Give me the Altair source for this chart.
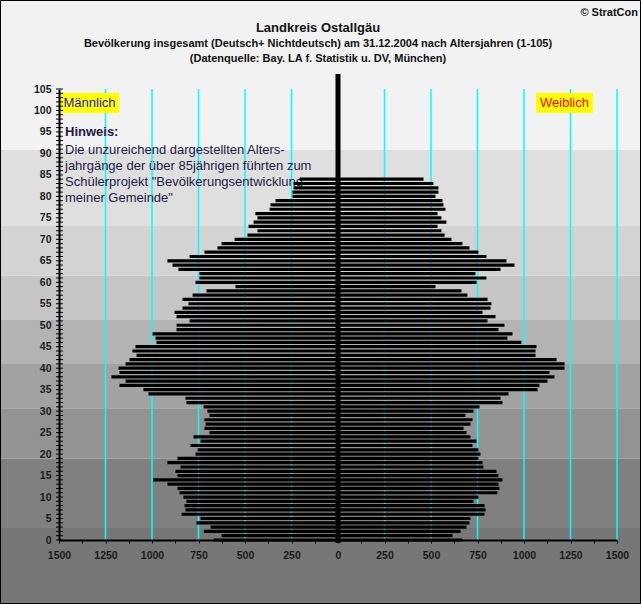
import altair as alt
import pandas as pd

# ---------------- data ----------------
ages = list(range(85))
male = [668, 626, 721, 685, 761, 739, 841, 820, 825, 815,
        831, 852, 863, 917, 994, 863, 874, 847, 917, 863,
        766, 755, 793, 739, 777, 691, 718, 712, 718, 691,
        702, 723, 815, 820, 1019, 1046, 1175, 1142, 1218, 1175,
        1180, 1142, 1121, 1083, 1105, 1089, 976, 981, 997, 868,
        868, 798, 868, 879, 836, 804, 836, 782, 707, 551,
        766, 745, 745, 858, 890, 917, 798, 718, 648, 626,
        556, 487, 433, 481, 454, 433, 444, 368, 363, 336,
        245, 245, 239, 239, 207]
female = [669, 616, 659, 691, 707, 712, 788, 793, 788, 728,
          755, 857, 868, 863, 884, 863, 852, 782, 777, 755,
          766, 755, 723, 745, 712, 691, 675, 712, 723, 685,
          728, 761, 884, 874, 917, 1073, 1083, 1126, 1164, 1137,
          1218, 1218, 1175, 1062, 1062, 1067, 986, 911, 938, 863,
          895, 804, 847, 777, 820, 825, 804, 696, 664, 524,
          745, 798, 739, 874, 949, 906, 798, 755, 707, 669,
          610, 573, 556, 535, 583, 556, 535, 578, 567, 562,
          524, 540, 540, 513, 460]

band_lo = [-40, 2.8, 18.9, 30.7, 41.0, 51.2, 61.5, 73.1, 90.8]
band_hi = [2.8, 18.9, 30.7, 41.0, 51.2, 61.5, 73.1, 90.8, 140]
band_col = ["#777777", "#808080", "#939393", "#a2a2a2", "#b3b3b3",
            "#c6c6c6", "#d3d3d3", "#dfdfdf", "#f2f2f2"]

grid_vals = [-1250, -1000, -750, -500, -250, 250, 500, 750, 1000, 1250, 1500]
x_ticks = list(range(-1500, 1501, 125))
y_labels = list(range(0, 106, 5))
y_ticks = list(range(0, 106))

title = "Landkreis Ostallgäu"
sub1 = "Bevölkerung  insgesamt (Deutsch+ Nichtdeutsch) am 31.12.2004 nach Altersjahren (1-105)"
sub2 = "(Datenquelle: Bay. LA f. Statistik u. DV, München)"
copyright_txt = "© StratCon"
note_head = "Hinweis:"
note_lines = ["Die unzureichend dargestellten Alters-",
              "jahrgänge der über 85jährigen führten zum",
              "Schülerprojekt \"Bevölkerungsentwicklung",
              "meiner Gemeinde\""]

W, H = 558, 451
PL, PT, PR, PB = 59, 89, 24, 64

# ---------------- tables ----------------
bars = pd.DataFrame({
    "age": ages * 2,
    "value": [-v for v in male] + female,
    "sex": ["Männlich"] * len(ages) + ["Weiblich"] * len(ages),
})
bands = pd.DataFrame({"lo": band_lo, "hi": band_hi, "col": band_col})
grid = pd.DataFrame({"v": grid_vals})
yt = pd.DataFrame({"age": y_ticks})
one = pd.DataFrame({"a": [0]})

xs = alt.Scale(domain=[-1500, 1500], nice=False, zero=False, padding=0)
ys = alt.Scale(domain=[0, 105], nice=False, zero=False, padding=0)

xa = alt.Axis(values=x_ticks, title=None, grid=False, zindex=2,
              labelExpr="datum.value % 250 == 0 ? format(abs(datum.value), 'd') : ''",
              labelOverlap=False, labelFlush=False,
              labelFont="Liberation Sans", labelFontSize=10.5,
              labelFontWeight="bold", labelColor="#1a1a1a",
              tickSize=3, tickColor="black", tickWidth=1,
              labelPadding=7, domainColor="black", domainWidth=2)
ya = alt.Axis(values=y_labels, title=None, grid=False, ticks=False, zindex=2,
              labelFont="Liberation Sans", labelFontSize=10.5,
              labelFontWeight="bold", labelColor="#1a1a1a",
              labelPadding=8, labelOverlap=False, labelFlush=False,
              domainColor="black", domainWidth=2)

band_layer = alt.Chart(bands).mark_rect().encode(
    x=alt.value(-PL), x2=alt.value(W + PR),
    y=alt.Y("lo:Q", scale=ys, axis=ya), y2="hi:Q",
    fill=alt.Fill("col:N", scale=None),
)

grid_layer = alt.Chart(grid).mark_rule(color="#00ffff", strokeWidth=1.5).encode(
    x=alt.X("v:Q", scale=xs, axis=xa), y=alt.value(0), y2=alt.value(H),
)

note_col = "#1c1a45"


def txt(t, x, y, size, weight="bold", align="center", color="#111111",
        baseline="middle"):
    return alt.Chart(one).mark_text(
        text=t, font="Liberation Sans", fontSize=size, fontWeight=weight,
        align=align, baseline=baseline, color=color,
    ).encode(x=alt.value(x), y=alt.value(y))


note_layers = [txt(note_head, 6, 47, 13, "bold", "left", note_col, "alphabetic")]
for i, line in enumerate(note_lines):
    note_layers.append(txt(line, 6, 65 + 16 * i, 13, "normal", "left",
                           note_col, "alphabetic"))

legend_box_m = alt.Chart(one).mark_rect(color="#ffff00").encode(
    x=alt.value(1), x2=alt.value(60), y=alt.value(4), y2=alt.value(24))
legend_box_f = alt.Chart(one).mark_rect(color="#ffff00").encode(
    x=alt.value(477), x2=alt.value(534), y=alt.value(4), y2=alt.value(24))
legend_txt_m = txt("Männlich", 30.5, 14, 13, "normal", "center", "#1c1cd8")
legend_txt_f = txt("Weiblich", 505.5, 14, 13, "normal", "center", "#ff0000")

bar_layer = alt.Chart(bars).mark_bar(color="black", size=3.2, orient="horizontal").encode(
    x=alt.X("value:Q", scale=xs, axis=xa),
    y=alt.Y("age:Q", scale=ys, axis=ya),
)

zero_layer = alt.Chart(one).mark_rule(color="black", strokeWidth=5).encode(
    x=alt.X("a:Q", scale=xs, axis=xa), y=alt.value(-15), y2=alt.value(H + 3))

ytick_layer = alt.Chart(yt).mark_rule(color="black", strokeWidth=1).encode(
    y=alt.Y("age:Q", scale=ys, axis=ya), x=alt.value(-3), x2=alt.value(4))

border = alt.Chart(one).mark_rect(fill=None, stroke="black", strokeWidth=1).encode(
    x=alt.value(-PL + 0.5), x2=alt.value(W + PR - 0.5),
    y=alt.value(-PT + 0.5), y2=alt.value(H + PB - 0.5))

title_layer = txt(title, 259, -61, 13)
sub1_layer = txt(sub1, 259, -45, 11)
sub2_layer = txt(sub2, 259, -30.5, 11)
copy_layer = txt(copyright_txt, 579, -76, 11, align="right")

chart = alt.layer(
    band_layer, grid_layer, *note_layers,
    legend_box_m, legend_box_f, legend_txt_m, legend_txt_f,
    bar_layer, zero_layer, ytick_layer,
    title_layer, sub1_layer, sub2_layer, copy_layer, border,
).properties(
    width=W, height=H,
    padding={"left": PL, "top": PT, "right": PR, "bottom": PB},
    autosize=alt.AutoSizeParams(type="none"),
    background="#f2f2f2",
).configure_view(stroke=None)

chart.save("out.html", embed_options={"renderer": "svg", "actions": False})
